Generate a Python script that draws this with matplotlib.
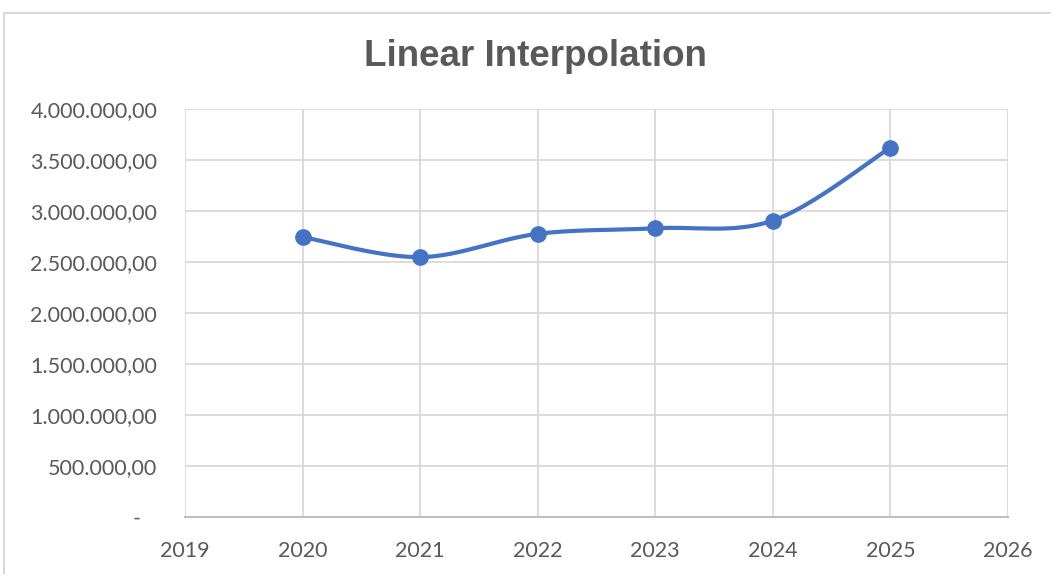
import matplotlib
matplotlib.use("Agg")
import matplotlib.pyplot as plt
import numpy as np
from matplotlib.patches import Rectangle
from matplotlib.ticker import FuncFormatter

years = [2020, 2021, 2022, 2023, 2024, 2025]
values = [2745000, 2548000, 2776000, 2831000, 2906000, 3622000]
title = "Linear Interpolation"

GRAY_TXT = "#595959"
GRID = "#D9D9D9"
BLUE = "#4472C4"


def smooth(x, y, n=40):
    # catmull-rom like Excel's smoothed line
    x = np.asarray(x, float)
    y = np.asarray(y, float)
    px = np.concatenate([[x[0]], x, [x[-1]]])
    py = np.concatenate([[y[0]], y, [y[-1]]])
    xs, ys = [], []
    t = np.linspace(0, 1, n)
    for i in range(1, len(px) - 2):
        p0 = np.array([px[i], py[i]])
        p3 = np.array([px[i + 1], py[i + 1]])
        c1 = p0 + (np.array([px[i + 1], py[i + 1]]) - np.array([px[i - 1], py[i - 1]])) / 6
        c2 = p3 - (np.array([px[i + 2], py[i + 2]]) - np.array([px[i], py[i]])) / 6
        b = ((1 - t) ** 3)[:, None] * p0 + (3 * (1 - t) ** 2 * t)[:, None] * c1 \
            + (3 * (1 - t) * t ** 2)[:, None] * c2 + (t ** 3)[:, None] * p3
        xs.extend(b[:, 0])
        ys.extend(b[:, 1])
    return xs, ys


def fmt(v, pos):
    if v == 0:
        return "-   "
    s = f"{v:,.2f}"
    return s.replace(",", "X").replace(".", ",").replace("X", ".")


fig = plt.figure(figsize=(10.51, 5.74), dpi=100)
ax = fig.add_axes([185 / 1051, 1 - 517 / 574, (1008 - 185) / 1051, (517 - 109) / 574])

fig.patches.append(Rectangle((4 / 1051, -0.05), 1.2, 1 - 13 / 574 + 0.05,
                             transform=fig.transFigure, fill=False,
                             edgecolor=GRID, linewidth=1.5))

sx, sy = smooth(years, values)
ax.plot(sx, sy, color=BLUE, linewidth=3, solid_capstyle="round", zorder=3)
ax.plot(years, values, "o", color=BLUE, markersize=11, zorder=4)

ax.set_xlim(2019, 2026)
ax.set_ylim(0, 4000000)
ax.set_xticks(range(2019, 2027))
ax.set_yticks(np.arange(0, 4000001, 500000))
ax.yaxis.set_major_formatter(FuncFormatter(fmt))
ax.grid(True, color=GRID, linewidth=1.3)
ax.set_axisbelow(True)
for s in ["top", "right", "left"]:
    ax.spines[s].set_visible(False)
ax.spines["bottom"].set_color("#BFBFBF")
ax.spines["bottom"].set_linewidth(1.5)
ax.tick_params(length=0, labelsize=15.5, labelcolor=GRAY_TXT)
ax.tick_params(axis="y", pad=20)
ax.tick_params(axis="x", pad=17)
for lab in ax.get_xticklabels() + ax.get_yticklabels():
    lab.set_fontfamily("Lato")

fig.text(535 / 1051, 1 - 57 / 574, title, ha="center", va="center",
         fontsize=26.5, fontweight="bold", color=GRAY_TXT, family="Liberation Sans")

fig.savefig("out.png", dpi=100)
